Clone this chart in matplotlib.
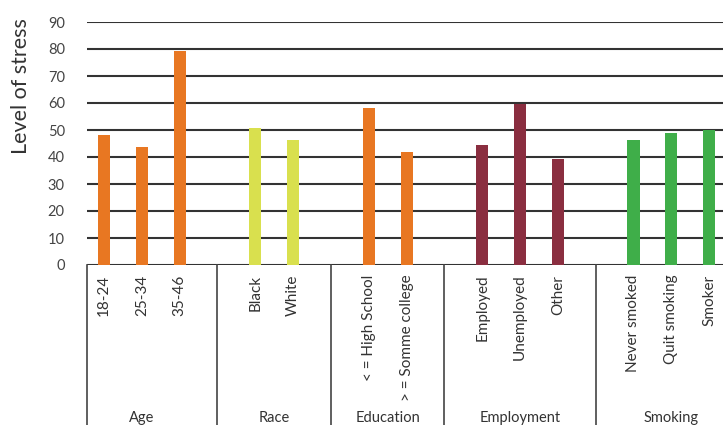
import numpy as np
import matplotlib.pyplot as plt

plt.rcParams['font.family'] = ['Lato', 'DejaVu Sans']

# data
groups = ['Age', 'Race', 'Education', 'Employment', 'Smoking']
categories = [['18-24', '25-34', '35-46'],
              ['Black', 'White'],
              ['< = High School', '> = Somme college'],
              ['Employed', 'Unemployed', 'Other'],
              ['Never smoked', 'Quit smoking', 'Smoker']]
values = [[48.0, 43.6, 79.3],
          [50.6, 46.2],
          [58.1, 41.7],
          [44.3, 59.8, 39.1],
          [46.2, 48.8, 50.0]]
colors = ['#E87722', '#D9E04E', '#E87722', '#8A2E40', '#3FAE49']
yticks = [0, 10, 20, 30, 40, 50, 60, 70, 80, 90]

fig = plt.figure(figsize=(7.23, 4.25), dpi=100)
ax = fig.add_axes([87/723, 160/425, 641/723, 243/425])

xpos, xlab = [], []
centers, seps = [], []
pos = 0
for g, cats in enumerate(categories):
      p = np.arange(pos, pos + len(cats))
      ax.bar(p, values[g], width=0.32, color=colors[g], zorder=3)
      xpos += list(p)
      xlab += cats
      centers.append(p.mean())
      seps.append(pos - 1)
      pos += len(cats) + 1

ax.set_xlim(-0.45, 16.5)
ax.set_ylim(0, 90)
ax.set_yticks(yticks)
ax.set_xticks(xpos, xlab, rotation=90, va='top')
ax.tick_params(axis='x', length=0, pad=7, labelsize=11, labelcolor='#333333')
ax.tick_params(axis='y', length=0, pad=16, labelsize=10.5, labelcolor='#444444')
for lab in ax.get_yticklabels():
      lab.set_ha('right')
ax.grid(axis='y', color='#333333', linewidth=1.5)
ax.set_axisbelow(True)
for s in ax.spines.values():
      s.set_visible(False)
ax.set_ylabel('Level of stress', fontsize=15.5, color='#333333')
ax.yaxis.set_label_coords(-0.087, 0.735)

# group frame under the axis
trans = ax.get_xaxis_transform()
seps[0] = -0.45
for x in seps:
      ax.plot([x, x], [0, -0.7], transform=trans, color='#444444', lw=1.2, clip_on=False)
for c, g in zip(centers, groups):
      ax.text(c, -0.628, g, transform=trans, ha='center', va='center', fontsize=10.5, color='#333333')

fig.savefig('out.png', dpi=100)
